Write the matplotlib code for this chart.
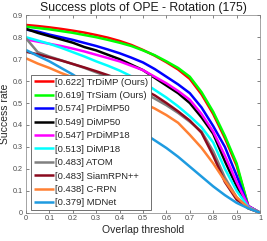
import numpy as np
import matplotlib
matplotlib.use("Agg")
import matplotlib.pyplot as plt

plt.rcParams['font.family'] = ['Liberation Sans', 'DejaVu Sans']

thresholds = np.round(np.arange(0, 1.0001, 0.05), 2)

labels = ["[0.622] TrDiMP (Ours)", "[0.619] TrSiam (Ours)", "[0.574] PrDiMP50",
          "[0.549] DiMP50", "[0.547] PrDiMP18", "[0.513] DiMP18", "[0.483] ATOM",
          "[0.483] SiamRPN++", "[0.438] C-RPN", "[0.379] MDNet"]

trdimp = [0.856, 0.851, 0.845, 0.838, 0.830, 0.821, 0.810, 0.798, 0.783, 0.765, 0.742,
          0.716, 0.686, 0.653, 0.610, 0.540, 0.450, 0.340, 0.215, 0.030, 0.0]
trsiam = [0.848, 0.842, 0.836, 0.828, 0.820, 0.810, 0.800, 0.788, 0.775, 0.760, 0.740,
          0.718, 0.690, 0.660, 0.620, 0.550, 0.460, 0.350, 0.225, 0.030, 0.0]
prdimp50 = [0.835, 0.826, 0.812, 0.800, 0.788, 0.774, 0.760, 0.744, 0.727, 0.707, 0.685,
            0.655, 0.620, 0.585, 0.545, 0.480, 0.395, 0.300, 0.170, 0.030, 0.0]
dimp50 = [0.838, 0.820, 0.805, 0.790, 0.775, 0.755, 0.740, 0.720, 0.700, 0.675, 0.650,
          0.615, 0.580, 0.545, 0.500, 0.435, 0.360, 0.235, 0.120, 0.025, 0.0]
prdimp18 = [0.790, 0.780, 0.770, 0.760, 0.748, 0.735, 0.720, 0.705, 0.690, 0.670, 0.650,
            0.620, 0.590, 0.555, 0.515, 0.450, 0.370, 0.260, 0.140, 0.030, 0.0]
dimp18 = [0.800, 0.785, 0.770, 0.752, 0.732, 0.712, 0.690, 0.670, 0.648, 0.622, 0.595,
          0.560, 0.525, 0.485, 0.440, 0.390, 0.320, 0.200, 0.100, 0.025, 0.0]
atom = [0.795, 0.732, 0.712, 0.695, 0.678, 0.660, 0.640, 0.620, 0.600, 0.575, 0.550,
        0.520, 0.490, 0.455, 0.415, 0.370, 0.280, 0.160, 0.070, 0.020, 0.0]
siamrpnpp = [0.734, 0.722, 0.708, 0.694, 0.678, 0.662, 0.645, 0.627, 0.608, 0.587, 0.563,
             0.535, 0.500, 0.462, 0.420, 0.365, 0.260, 0.140, 0.060, 0.020, 0.0]
crpn = [0.704, 0.680, 0.660, 0.637, 0.617, 0.600, 0.585, 0.568, 0.550, 0.528, 0.500,
        0.475, 0.445, 0.410, 0.355, 0.296, 0.225, 0.145, 0.070, 0.022, 0.0]
mdnet = [0.742, 0.715, 0.690, 0.660, 0.630, 0.595, 0.555, 0.510, 0.460, 0.410, 0.365,
         0.330, 0.295, 0.255, 0.210, 0.165, 0.120, 0.080, 0.045, 0.020, 0.0]

series = [trdimp, trsiam, prdimp50, dimp50, prdimp18, dimp18, atom, siamrpnpp, crpn, mdnet]
colors = ["#ff0000", "#00ff00", "#0000ff", "#000000", "#ff00ff", "#00ffff",
          "#808080", "#8b0a1e", "#ff8033", "#1e9be0"]

xticks = [0, 0.1, 0.2, 0.3, 0.4, 0.5, 0.6, 0.7, 0.8, 0.9, 1]
xticklabels = ["0", "0.1", "0.2", "0.3", "0.4", "0.5", "0.6", "0.7", "0.8", "0.9", "1"]
yticks = [0, 0.1, 0.2, 0.3, 0.4, 0.5, 0.6, 0.7, 0.8, 0.9]
yticklabels = ["0", "0.1", "0.2", "0.3", "0.4", "0.5", "0.6", "0.7", "0.8", "0.9"]

fig = plt.figure(figsize=(2.67, 2.41), dpi=100)
ax = fig.add_axes([26/267, 1-212.7/241, 234/267, (212.7-15.3)/241])

for vals, c, lab in zip(series, colors, labels):
    ax.plot(thresholds, vals, color=c, lw=1.8, label=lab, solid_capstyle='butt')

ax.set_xlim(0, 1)
ax.set_ylim(0, 0.9)
ax.set_xticks(xticks)
ax.set_xticklabels(xticklabels)
ax.set_yticks(yticks)
ax.set_yticklabels(yticklabels)
ax.tick_params(direction='in', length=2.5, width=0.5, labelsize=5.2, colors='0.3',
               top=True, right=True, pad=2)
for s in ax.spines.values():
    s.set_linewidth(0.5)
    s.set_color('0.5')

ax.set_title("Success plots of OPE - Rotation (175)", fontsize=8.8, pad=3, color='0.1')
ax.set_xlabel("Overlap threshold", fontsize=7.5, labelpad=2, color='0.15')
ax.set_ylabel("Success rate", fontsize=7.5, labelpad=2, color='0.15')

leg = ax.legend(loc='lower left', bbox_to_anchor=(0.021, 0.012), borderaxespad=0,
                fontsize=6.8, handlelength=2.1, handletextpad=0.2, labelspacing=0.47,
                borderpad=0.3, fancybox=False, framealpha=1, edgecolor='0.35')
leg.get_frame().set_linewidth(0.6)
for t in leg.get_texts():
    t.set_color('0.15')

fig.savefig("out.png", dpi=100)
